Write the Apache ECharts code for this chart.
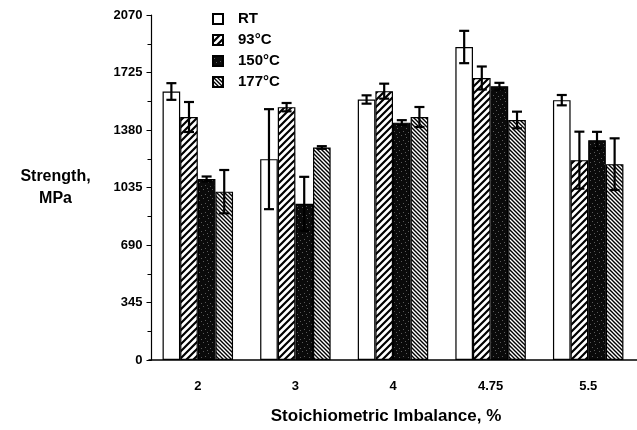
<!DOCTYPE html>
<html><head><meta charset="utf-8">
<script src="https://cdn.jsdelivr.net/npm/echarts@6/dist/echarts.min.js"></script>
<style>html,body{margin:0;padding:0;background:#fff}#c{width:637px;height:430px}</style>
</head><body><div id="c"></div>
<script>
const categories = ['2', '3', '4', '4.75', '5.5'];
const seriesNames = ['RT', '93°C', '150°C', '177°C'];
const rt = [1611, 1205, 1563, 1878, 1559];
const rtErr = [50, 300, 25, 97, 31];
const t93 = [1458, 1517, 1613, 1692, 1199];
const t93Err = [90, 25, 45, 69, 171];
const t150 = [1086, 937, 1424, 1643, 1319];
const t150Err = [15, 162, 15, 20, 50];
const t177 = [1010, 1275, 1458, 1440, 1175];
const t177Err = [130, 8, 60, 50, 155];
const yTicks = [0, 345, 690, 1035, 1380, 1725, 2070];

const values = [rt, t93, t150, t177];
const errs = [rtErr, t93Err, t150Err, t177Err];

function hatch(s, lw, dir, bg, fg) {
  const c = document.createElement('canvas');
  c.width = s; c.height = s;
  const g = c.getContext('2d');
  g.fillStyle = bg; g.fillRect(0, 0, s, s);
  g.strokeStyle = fg; g.lineWidth = lw;
  g.beginPath();
  if (dir === '/') {
    for (const k of [-1, 0, 1]) { g.moveTo(k * s - 1, s + 1); g.lineTo(k * s + s + 1, -1); }
  } else {
    for (const k of [-1, 0, 1]) { g.moveTo(k * s - 1, -1); g.lineTo(k * s + s + 1, s + 1); }
  }
  g.stroke();
  return c;
}
function speckle() {
  const c = document.createElement('canvas');
  c.width = 9; c.height = 9;
  const g = c.getContext('2d');
  g.fillStyle = '#0a0a0a'; g.fillRect(0, 0, 9, 9);
  g.fillStyle = '#5a5a5a';
  [[1,2],[5,0],[7,5],[3,6],[0,8]].forEach(p => g.fillRect(p[0], p[1], 1, 1));
  return c;
}
const fills = [
  '#ffffff',
  { image: hatch(7, 2.2, '/', '#ffffff', '#000000'), repeat: 'repeat' },
  { image: speckle(), repeat: 'repeat' },
  { image: hatch(4, 1.4, '\\', '#ffffff', '#000000'), repeat: 'repeat' }
];

const gapRatio = 0.278;
const errData = [];
values.forEach((arr, si) => arr.forEach((v, ci) => errData.push([ci, v, errs[si][ci], si])));

const font = '"Liberation Sans", Arial, Helvetica, sans-serif';

const barSeries = values.map((arr, si) => ({
  name: seriesNames[si],
  type: 'bar',
  data: arr,
  barGap: '0%',
  barCategoryGap: (gapRatio * 100) + '%',
  itemStyle: { color: fills[si], borderColor: '#000', borderWidth: 1.2 },
  emphasis: { disabled: true },
  silent: true
}));

const errSeries = {
  type: 'custom',
  data: errData,
  z: 10,
  silent: true,
  renderItem: function (params, api) {
    const ci = api.value(0), v = api.value(1), e = api.value(2), si = api.value(3);
    const band = api.size([1, 0])[0];
    const groupW = band * (1 - gapRatio);
    const bw = groupW / 4;
    const c = api.coord([ci, v]);
    const x = c[0] - groupW / 2 + bw * (si + 0.5);
    const yt = api.coord([ci, v + e])[1];
    const yb = api.coord([ci, v - e])[1];
    const cap = 5;
    const st = { stroke: '#000', lineWidth: 2.2 };
    return {
      type: 'group',
      children: [
        { type: 'line', shape: { x1: x, y1: yt, x2: x, y2: yb }, style: st },
        { type: 'line', shape: { x1: x - cap, y1: yt, x2: x + cap, y2: yt }, style: st },
        { type: 'line', shape: { x1: x - cap, y1: yb, x2: x + cap, y2: yb }, style: st }
      ]
    };
  }
};

const chart = echarts.init(document.getElementById('c'), null, { renderer: 'canvas' });
chart.setOption({
  animation: false,
  backgroundColor: '#fff',
  textStyle: { fontFamily: font },
  grid: { left: 149, right: -4, top: 15, bottom: 68 },
  legend: {
    orient: 'vertical',
    left: 212, top: 11,
    padding: 0,
    icon: 'rect',
    itemWidth: 10, itemHeight: 10,
    itemGap: 5,
    data: seriesNames,
    textStyle: { fontFamily: font, fontWeight: 'bold', fontSize: 15, lineHeight: 16, color: '#000', padding: [0, 0, 0, 10] },
    selectedMode: false
  },
  xAxis: {
    type: 'category',
    data: categories,
    axisLine: { lineStyle: { color: '#000', width: 1.5 } },
    axisTick: { show: false },
    axisLabel: { color: '#000', fontWeight: 'bold', fontSize: 13, fontFamily: font, margin: 20 },
    name: 'Stoichiometric Imbalance, %',
    nameLocation: 'middle',
    nameGap: 48,
    nameTextStyle: { color: '#000', fontWeight: 'bold', fontSize: 17, fontFamily: font, padding: [0, 14, 0, 0] }
  },
  yAxis: {
    type: 'value',
    min: yTicks[0], max: yTicks[yTicks.length - 1], interval: 345,
    offset: -2.5,
    splitLine: { show: false },
    axisLine: { show: true, lineStyle: { color: '#000', width: 1.2 } },
    axisTick: { show: true, length: 5, lineStyle: { color: '#000' } },
    minorTick: { show: true, splitNumber: 2, length: 4, lineStyle: { color: '#000' } },
    axisLabel: { color: '#000', fontWeight: 'bold', fontSize: 13, fontFamily: font, margin: 9,
      formatter: v => String(v) },
    name: 'Strength,\nMPa',
    nameLocation: 'middle',
    nameRotate: 0,
    nameGap: 96,
    nameTextStyle: { color: '#000', fontWeight: 'bold', fontSize: 16, fontFamily: font, align: 'center', lineHeight: 22, padding: [8, 0, 0, 0] }
  },
  series: [...barSeries, errSeries]
});
</script></body></html>
